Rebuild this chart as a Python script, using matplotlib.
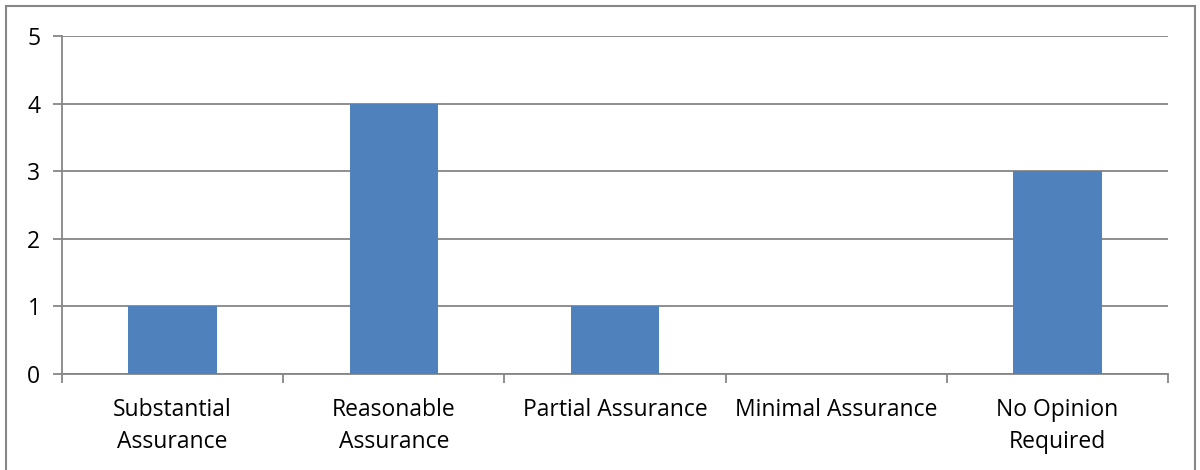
import matplotlib
matplotlib.use("Agg")
import matplotlib.pyplot as plt
from matplotlib.patches import Rectangle
import numpy as np

categories = ["Substantial\nAssurance", "Reasonable\nAssurance", "Partial Assurance",
              "Minimal Assurance", "No Opinion\nRequired"]
values = [1, 4, 1, 0, 3]
yticks = [0, 1, 2, 3, 4, 5]

plt.rcParams['font.family'] = ['Open Sans', 'DejaVu Sans']

W, H = 1200, 470
fig = plt.figure(figsize=(12, 4.7), dpi=100)
ax = fig.add_axes([62 / W, 1 - 374 / H, (1168 - 62) / W, (374 - 36) / H])

gray = "#868686"
x = np.arange(len(categories))
ax.bar(x, values, width=0.4, color="#4F81BD", zorder=3)
ax.set_xlim(-0.5, len(categories) - 0.5)
ax.set_ylim(0, 5)
ax.set_yticks(yticks)
ax.set_yticklabels([str(t) for t in yticks], fontsize=16.5)
ax.yaxis.grid(True, color=gray, linewidth=1.3, zorder=0)
ax.set_xticks(x)
ax.set_xticklabels(categories, fontsize=16.5, linespacing=1.45)
ax.set_xticks(np.arange(-0.5, len(categories)), minor=True)
ax.tick_params(axis='x', which='major', length=0, pad=17)
ax.tick_params(axis='x', which='minor', length=6.5, width=1.3, color=gray)
ax.tick_params(axis='y', length=6.5, width=1.3, color=gray, pad=9)
for s in ['top', 'right']:
    ax.spines[s].set_visible(False)
for s in ['left', 'bottom']:
    ax.spines[s].set_color(gray)
    ax.spines[s].set_linewidth(1.3)

fig.patches.append(Rectangle((6 / W, -0.1), (1195 - 6) / W, 1.1 - 6 / H,
                             transform=fig.transFigure, fill=False,
                             edgecolor=gray, linewidth=1.5))
fig.savefig("out.png", dpi=100)
